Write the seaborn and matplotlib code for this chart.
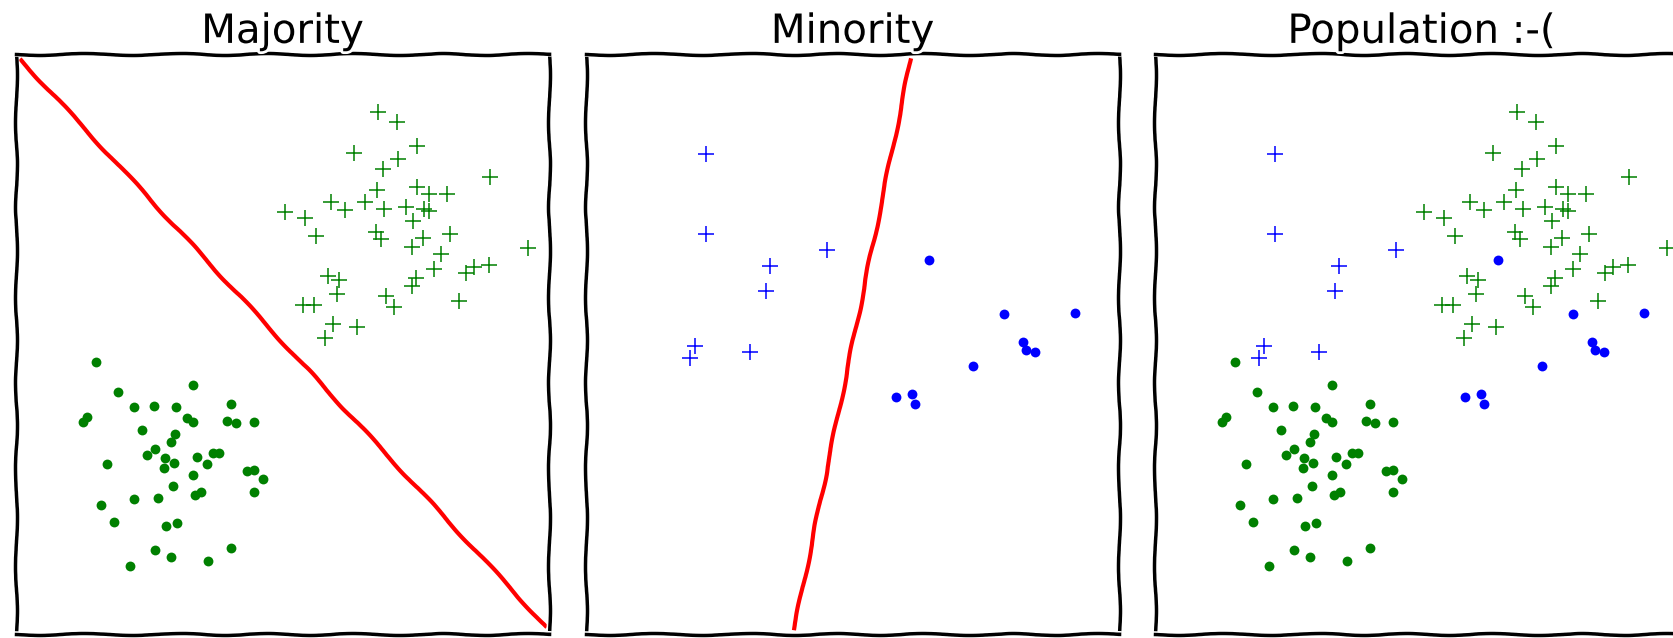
import matplotlib
matplotlib.use('Agg')
import matplotlib.pyplot as plt
import seaborn as sns

# --- data (axes run 0..10 in both directions) ---
maj_plus_x = [6.80, 7.14, 7.52, 6.34, 7.16, 6.89, 8.90, 6.78, 7.52, 7.74, 8.08, 5.91, 6.18, 6.55, 6.90,
              7.32, 7.66, 7.45, 5.05, 5.42, 5.62, 6.75, 6.84, 7.64, 8.15, 7.43, 9.60, 7.98, 7.85, 8.59,
              8.87, 5.86, 6.06, 6.03, 7.51, 7.43, 6.94, 7.10, 5.39, 5.59, 8.32, 5.95, 6.40, 5.79, 7.74, 8.45]
maj_plus_y = [9.00, 8.83, 8.42, 8.29, 8.19, 8.01, 7.88, 7.65, 7.71, 7.58, 7.58, 7.44, 7.31, 7.44, 7.33,
              7.37, 7.33, 7.12, 7.28, 7.18, 6.86, 6.93, 6.81, 6.82, 6.89, 6.67, 6.65, 6.56, 6.29, 6.32,
              6.37, 6.18, 6.11, 5.86, 6.13, 6.00, 5.82, 5.64, 5.68, 5.68, 5.74, 5.35, 5.30, 5.11, 7.30, 6.23]

maj_dot_x = [1.50, 1.92, 3.33, 2.22, 2.58, 3.01, 4.04, 1.33, 3.33, 4.13, 4.46, 2.36, 2.90, 2.46, 3.39,
             3.70, 1.70, 2.78, 2.96, 3.59, 3.33, 4.46, 4.63, 2.95, 3.35, 4.46, 1.60, 2.22, 2.66, 1.84,
             2.81, 3.03, 2.61, 2.90, 4.04, 3.60, 2.14, 3.20, 3.95, 1.26, 4.34, 2.61, 3.47, 3.80, 2.98, 2.79]
maj_dot_y = [4.69, 4.18, 4.29, 3.92, 3.93, 3.92, 3.96, 3.75, 3.66, 3.64, 3.65, 3.51, 3.31, 3.09, 3.05,
             3.12, 2.93, 2.86, 2.95, 2.93, 2.74, 2.82, 2.68, 2.56, 2.40, 2.44, 2.22, 2.32, 2.35, 1.93,
             1.86, 1.91, 1.44, 1.33, 1.49, 1.26, 1.18, 3.73, 3.68, 3.65, 2.81, 3.19, 2.44, 3.12, 3.44, 3.03]

min_plus_x = [2.25, 2.25, 4.53, 3.46, 3.38, 2.04, 1.96, 3.08]
min_plus_y = [8.27, 6.89, 6.62, 6.34, 5.92, 4.96, 4.76, 4.86]

min_dot_x = [6.43, 7.84, 9.18, 8.25, 8.43, 8.19, 7.26, 5.81, 6.17, 6.12]
min_dot_y = [6.45, 5.51, 5.54, 4.90, 4.86, 5.04, 4.62, 4.09, 3.96, 4.14]

maj_line_x = [0.10, 9.93]
maj_line_y = [9.89, 0.14]
min_line_x = [6.09, 3.91]
min_line_y = [9.89, 0.10]

titles = ['Majority', 'Minority', 'Population :-(']

plt.xkcd()
plt.rcParams['font.family'] = ['DejaVu Sans']
plt.rcParams['axes.linewidth'] = 2.5

fig = plt.figure(figsize=(16.74, 6.38), dpi=100)
W, H = 1674, 638
# third panel runs off the right edge, as in the reference
axes = [fig.add_axes([x0 / W, 4 / H, 533 / W, 580 / H]) for x0 in (16, 586, 1155)]


def draw_plus(ax, x, y, color):
    sns.scatterplot(x=x, y=y, ax=ax, marker='+', color=color, s=130, linewidth=1.1)


def draw_dots(ax, x, y, color):
    sns.scatterplot(x=x, y=y, ax=ax, marker='o', color=color, s=50, linewidth=0)


# Majority
draw_plus(axes[0], maj_plus_x, maj_plus_y, 'green')
draw_dots(axes[0], maj_dot_x, maj_dot_y, 'green')
sns.lineplot(x=maj_line_x, y=maj_line_y, ax=axes[0], color='red', lw=3, sort=False)

# Minority
draw_plus(axes[1], min_plus_x, min_plus_y, 'blue')
draw_dots(axes[1], min_dot_x, min_dot_y, 'blue')
sns.lineplot(x=min_line_x, y=min_line_y, ax=axes[1], color='red', lw=3, sort=False)

# Population
draw_plus(axes[2], maj_plus_x, maj_plus_y, 'green')
draw_dots(axes[2], maj_dot_x, maj_dot_y, 'green')
draw_plus(axes[2], min_plus_x, min_plus_y, 'blue')
draw_dots(axes[2], min_dot_x, min_dot_y, 'blue')

for ax, t in zip(axes, titles):
    ax.set_xlim(0, 10)
    ax.set_ylim(0, 10)
    ax.set_xticks([])
    ax.set_yticks([])
    ax.set_xlabel('')
    ax.set_ylabel('')
    ax.set_title(t, fontsize=29, pad=8)

fig.savefig('out.png', dpi=100)
